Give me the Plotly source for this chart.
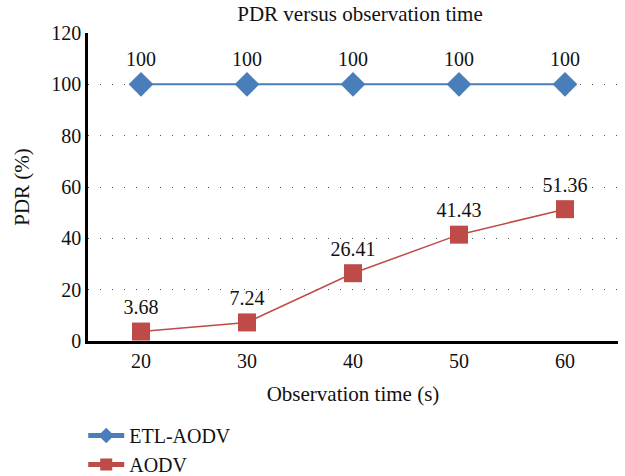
import plotly.graph_objects as go

# Observation time (s) and packet delivery ratio (%) for each protocol
obs_time = ["20", "30", "40", "50", "60"]
etl_aodv = [100, 100, 100, 100, 100]
aodv = [3.68, 7.24, 26.41, 41.43, 51.36]
y_ticks = [0, 20, 40, 60, 80, 100, 120]

FONT = "Liberation Serif, Times New Roman, serif"
BLUE = "#4a7ebb"
RED = "#be4b48"
TXT = dict(family=FONT, size=20, color="#111")
TITLE = dict(family=FONT, size=21, color="#111")

fig = go.Figure()
fig.add_trace(go.Scatter(
    x=obs_time, y=etl_aodv, name="ETL-AODV", mode="lines+markers+text",
    line=dict(color=BLUE, width=2),
    marker=dict(symbol="diamond", size=19, color=BLUE),
    text=[f"{v:g}" for v in etl_aodv], textposition="top center",
    textfont=TXT,
))
fig.add_trace(go.Scatter(
    x=obs_time, y=aodv, name="AODV", mode="lines+markers+text",
    line=dict(color=RED, width=1.5),
    marker=dict(symbol="square", size=18, color=RED),
    text=[f"{v:.2f}" for v in aodv], textposition="top center",
    textfont=TXT,
))

fig.update_layout(
    width=625, height=476,
    margin=dict(l=88, r=7, t=33, b=135, autoexpand=False),
    paper_bgcolor="white", plot_bgcolor="white",
    font=TXT,
    title=dict(text="PDR versus observation time", x=0.576, xanchor="center",
               y=0.971, yanchor="middle", font=TITLE),
    showlegend=True,
    legend=dict(orientation="v", x=-0.009, xanchor="left",
                yref="container", y=0.126, yanchor="top",
                font=TXT, itemwidth=36, tracegroupgap=0, itemsizing="constant"),
    xaxis=dict(
        type="category", range=[-0.5, 4.5],
        showline=True, linecolor="black", linewidth=2.5,
        showgrid=False, ticks="", zeroline=False, automargin=False,
        tickfont=TXT,
        title=dict(text="Observation time (s)", font=TITLE, standoff=16),
    ),
    yaxis=dict(
        range=[0, 120], tickvals=y_ticks,
        showline=True, linecolor="black", linewidth=2.5,
        showgrid=True, gridcolor="#555", gridwidth=1, griddash="1px,11px",
        ticks="", zeroline=False, automargin=False,
        tickfont=TXT,
        title=dict(text="PDR (%)", font=TITLE, standoff=16),
    ),
)

fig.write_html("out.html")
